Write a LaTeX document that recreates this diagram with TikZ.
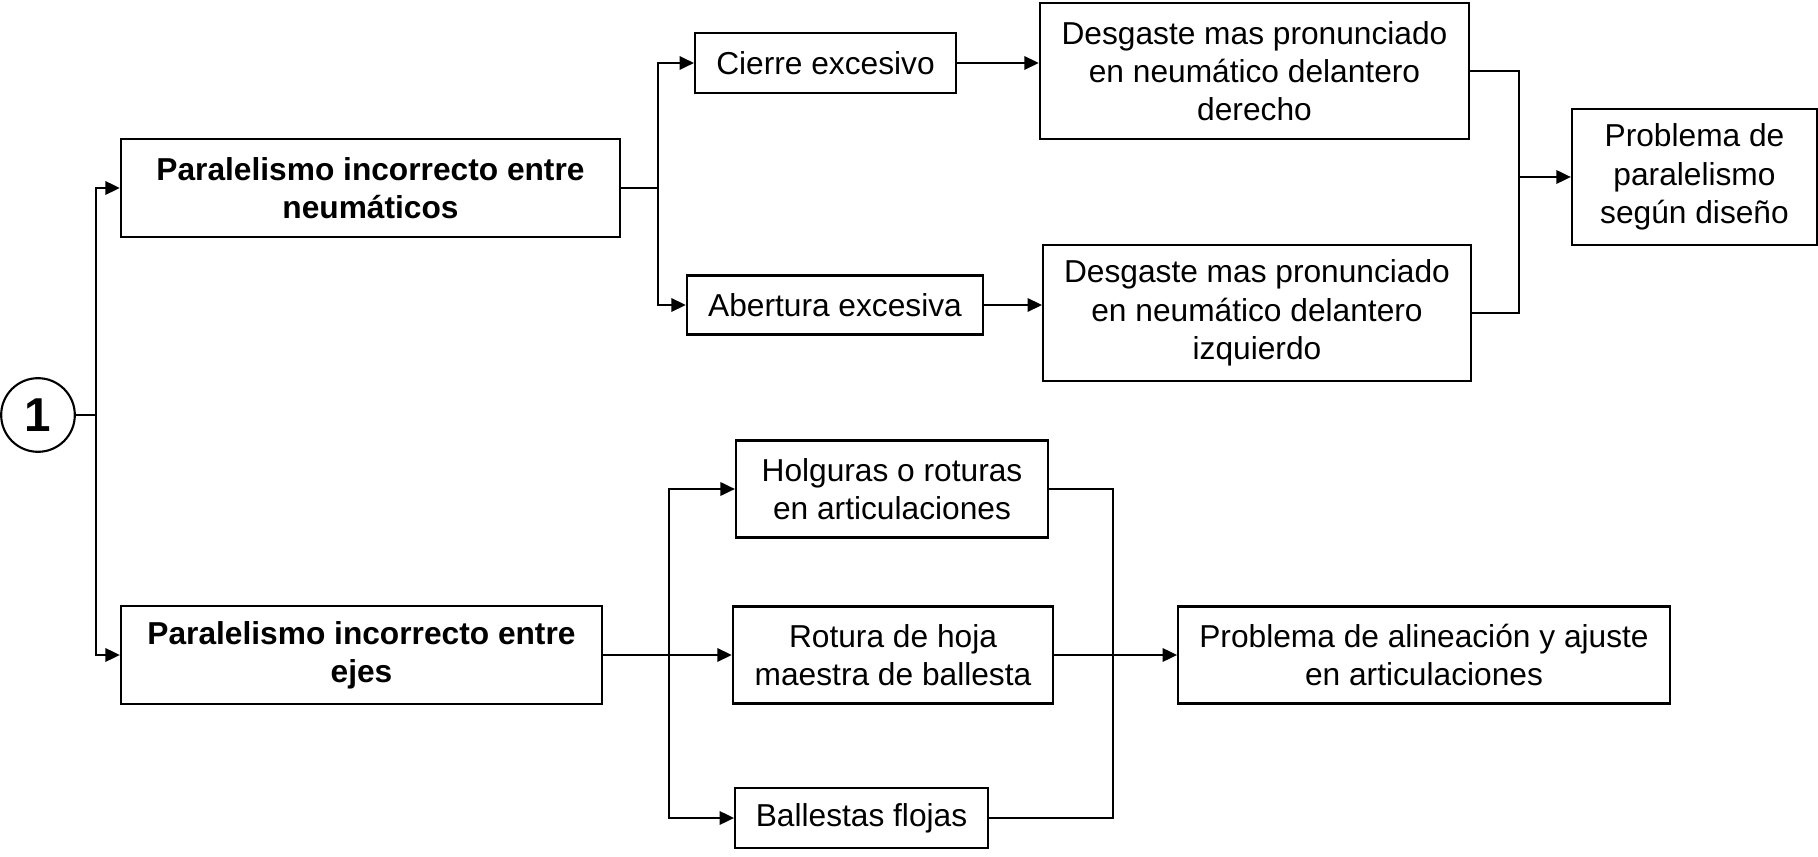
\documentclass[tikz,border=0pt]{standalone}
\usepackage{fontspec}
\setmainfont{Liberation Sans}
\usetikzlibrary{arrows.meta}

\begin{document}
\begin{tikzpicture}[x=0.0133cm, y=-0.0133cm,
  every node/.style={draw, line width=0.8pt, align=center, inner sep=2pt,
    font=\fontsize{12}{14.5}\selectfont},
  bbox/.style={font=\fontsize{12}{14.5}\selectfont\bfseries},
  arr/.style={-{Triangle[length=5.5pt,width=5pt]}},
  link/.style={line width=1pt}]
\useasboundingbox (0,0) rectangle (1818,857);

\node[circle, minimum size=0.98cm, font=\fontsize{18}{20}\selectfont\bfseries] (one) at (38,415) {1};

\node[bbox, minimum width=6.64cm, minimum height=1.30cm] (neu) at (370.5,188) {Paralelismo incorrecto entre\\neumáticos};
\node[bbox, minimum width=6.40cm, minimum height=1.30cm] (ejes) at (361.5,655) {Paralelismo incorrecto entre\\ejes};

\node[minimum width=3.47cm, minimum height=0.80cm] (cie) at (825.5,63) {Cierre excesivo};
\node[minimum width=3.94cm, minimum height=0.785cm] (abe) at (835,305) {Abertura excesiva};
\node[minimum width=5.71cm, minimum height=1.81cm] (der) at (1254.5,71) {Desgaste mas pronunciado\\en neumático delantero\\derecho};
\node[minimum width=5.69cm, minimum height=1.81cm] (izq) at (1257,313) {Desgaste mas pronunciado\\en neumático delantero\\izquierdo};
\node[minimum width=3.26cm, minimum height=1.81cm] (par) at (1694.5,177) {Problema de\\paralelismo\\según diseño};

\node[minimum width=4.15cm, minimum height=1.29cm] (hol) at (892,489) {Holguras o roturas\\en articulaciones};
\node[minimum width=4.26cm, minimum height=1.29cm] (rot) at (893,655) {Rotura de hoja\\maestra de ballesta};
\node[minimum width=3.36cm, minimum height=0.80cm] (bal) at (861.5,818) {Ballestas flojas};
\node[minimum width=6.54cm, minimum height=1.29cm] (ali) at (1424,655) {Problema de alineación y ajuste\\en articulaciones};

\coordinate (t) at (96,415);
\coordinate (s1) at (658,188);
\coordinate (j1) at (1519,177);
\coordinate (s2) at (669,655);
\coordinate (j2) at (1113,655);

\draw[link] (one.east) -- (t);
\draw[link, arr] (t) |- (neu.west);
\draw[link, arr] (t) |- (ejes.west);

\draw[link] (neu.east) -- (s1);
\draw[link, arr] (s1) |- (cie.west);
\draw[link, arr] (s1) |- (abe.west);
\draw[link, arr] (cie.east) -- (cie.east -| der.west);
\draw[link, arr] (abe.east) -- (abe.east -| izq.west);
\draw[link] (der.east) -| (j1);
\draw[link] (izq.east) -| (j1);
\draw[link, arr] (j1) -- (par.west);

\draw[link] (ejes.east) -- (s2);
\draw[link, arr] (s2) |- (hol.west);
\draw[link, arr] (s2) -- (rot.west);
\draw[link, arr] (s2) |- (bal.west);
\draw[link] (hol.east) -| (j2);
\draw[link] (bal.east) -| (j2);
\draw[link] (rot.east) -- (j2);
\draw[link, arr] (j2) -- (ali.west);
\end{tikzpicture}
\end{document}
